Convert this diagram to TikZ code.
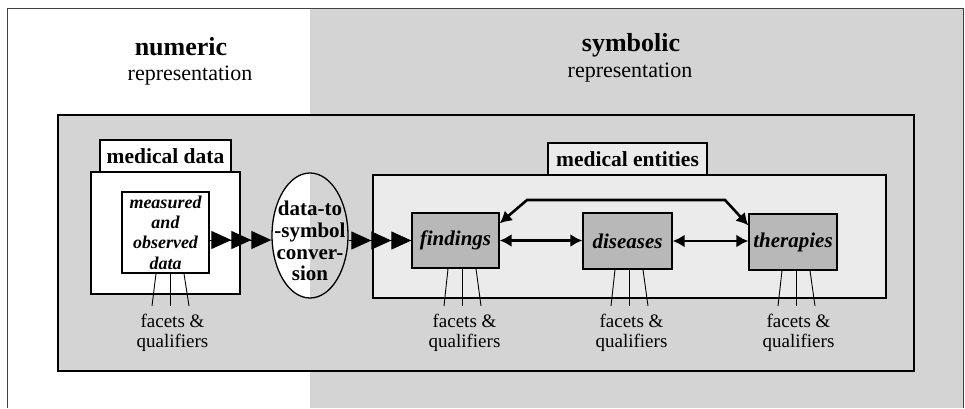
\documentclass[tikz,border=0pt]{standalone}
\usepackage{fontspec}
\setmainfont{Liberation Serif}
\usetikzlibrary{arrows.meta,shapes.geometric,calc}

\definecolor{symbg}{gray}{0.83}
\definecolor{entbg}{gray}{0.92}
\definecolor{itembg}{gray}{0.72}

\begin{document}
\begin{tikzpicture}[x=1pt, y=-1pt,
    panelbox/.style={draw, line width=1.3pt, inner sep=0pt},
    tabbox/.style={panelbox, fill=white, font=\bfseries\fontsize{21.5}{22}\selectfont},
    itembox/.style={panelbox, fill=itembg, font=\bfseries\itshape\fontsize{21}{22}\selectfont},
    facet/.style={anchor=north, align=center, inner xsep=0pt, inner ysep=8pt, font=\fontsize{19}{20}\selectfont},
    fanline/.style={line width=0.9pt},
    tripletip/.style={-{Triangle[length=20pt,width=18pt,sep=0pt]Triangle[length=20pt,width=18pt,sep=0pt]Triangle[length=20pt,width=18pt,sep=0pt]}, line width=1pt},
    biarrow/.style={{Latex[length=12pt,width=13pt]}-{Latex[length=12pt,width=13pt]}, line width=2.6pt}]
    \useasboundingbox (0,0) rectangle (965,408);

    % Fondo y marco exterior
    \fill[symbg] (310,8) rectangle (963,408);
    \draw[line width=1pt, black!75] (7,408) -- (7,8) -- (963,8) -- (963,408);

    % Titulos
    \node[anchor=base, font=\bfseries\fontsize{26}{26}\selectfont] (numtitle) at (181,55) {numeric};
    \node[anchor=base, font=\fontsize{22}{22}\selectfont] (numsub) at (190,80) {representation};
    \node[anchor=base, font=\bfseries\fontsize{26}{26}\selectfont] (symtitle) at (631,51) {symbolic};
    \node[anchor=base, font=\fontsize{22}{22}\selectfont] (symsub) at (630,77) {representation};

    % Marco interior
    \node[panelbox, fill=symbg, minimum width=856pt, minimum height=256pt] (frame) at (486,243) {};

    % Datos medicos
    \node[panelbox, fill=white, minimum width=149pt, minimum height=122pt] (datapanel) at (165.5,233) {};
    \node[tabbox, minimum width=131pt, minimum height=32pt] (datatab) at (165.5,156) {medical data};
    \node[panelbox, fill=white, align=center, minimum width=87pt, minimum height=81pt,
        font=\bfseries\itshape\fontsize{18}{20.3}\selectfont] (measured) at (165.5,232.5)
        {measured\\and\\observed\\data};

    % Conversion
    \node[panelbox, ellipse, fill=white, minimum width=76pt, minimum height=125pt,
        path picture={\fill[symbg] (path picture bounding box.north) rectangle (path picture bounding box.south east);}]
        (conv) at (310,235.5) {};
    \node[anchor=north, align=center, inner sep=0pt, font=\bfseries\fontsize{21}{21.7}\selectfont]
        (convlbl) at (310,201) {data-to\\-symbol\\conver-\\sion};

    % Entidades medicas
    \node[panelbox, fill=entbg, minimum width=513pt, minimum height=123pt] (entpanel) at (629.5,236.5) {};
    \node[tabbox, fill=entbg, minimum width=159pt, minimum height=32pt] (enttab) at (627.5,159) {medical entities};
    \node[itembox, minimum width=87pt, minimum height=55pt] (findings) at (455.5,240.5) {findings};
    \node[itembox, minimum width=89pt, minimum height=56pt] (diseases) at (627.5,241) {diseases};
    \node[itembox, minimum width=88pt, minimum height=56pt] (therapies) at (793,242) {therapies};

    % Flechas
    \coordinate (convin) at ($(conv.west)+(0,4.5)$);
    \draw[tripletip] (measured.east |- convin) -- (convin);
    \draw[tripletip] (conv.east |- findings.west) -- (findings.west);
    \draw[biarrow] (findings.east) -- (diseases.west |- findings.east);
    \draw[biarrow] (diseases.east) -- (therapies.west |- diseases.east);
    \draw[biarrow] ($(findings.north east)+(0,11)$) -- (527,200) -- (725,200) -- ($(therapies.north west)+(0,12)$);

    % Facetas y calificadores
    \foreach \b/\mx in {measured/170, findings/462, diseases/629, therapies/796} {
        \node[facet] (\b-fac) at (\mx+2.5,306) {facets \&\\qualifiers};
        \draw[fanline] (\b.south -| \mx-14,0) -- (\b-fac.north -| \mx-18,0);
        \draw[fanline] (\b.south -| \mx,0) -- (\b-fac.north -| \mx,0);
        \draw[fanline] (\b.south -| \mx+14,0) -- (\b-fac.north -| \mx+19,0);
    }
\end{tikzpicture}
\end{document}
